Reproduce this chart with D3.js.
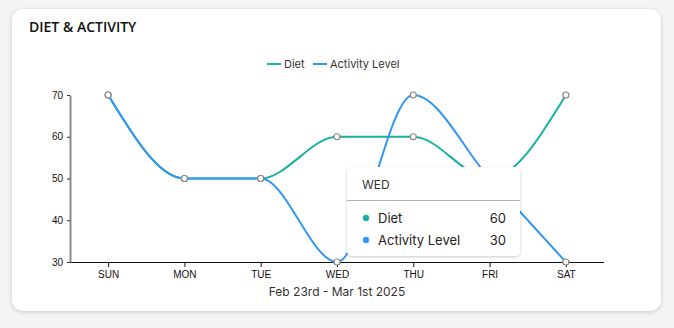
<!DOCTYPE html>
<html>
<head>
<meta charset="utf-8">
<script src="https://cdn.jsdelivr.net/npm/d3@7"></script>
<style>
  html, body { margin: 0; padding: 0; background: #f4f4f4; }
  body { width: 674px; height: 328px; overflow: hidden; position: relative; }
  .card { position: absolute; left: 12px; top: 9px; width: 649px; height: 302px; background: #fff; border-radius: 11px;
          box-shadow: 0 1px 4px rgba(0,0,0,0.18); }
  svg { position: absolute; left: 0; top: 0; }
</style>
</head>
<body>
<div class="card"></div>
<svg id="chart" width="674" height="328"></svg>
<script>
const categories = ["SUN", "MON", "TUE", "WED", "THU", "FRI", "SAT"];
const dietValues = [70, 50, 50, 60, 60, 50, 70];
const activityValues = [70, 50, 50, 30, 70, 50, 30];
const yTicks = [30, 40, 50, 60, 70];
const seriesNames = ["Diet", "Activity Level"];
const seriesColors = ["#17b1a3", "#3196f6"];
const titleText = "DIET & ACTIVITY";
const xTitle = "Feb 23rd - Mar 1st 2025";
const tooltipIndex = 3;

const svg = d3.select("#chart");
const margin = { left: 70, right: 604, top: 95, bottom: 262 };

const x = d3.scalePoint().domain(categories).range([margin.left, margin.right]).padding(0.5);
const y = d3.scaleLinear().domain([30, 70]).range([margin.bottom, margin.top]);

const defs = svg.append("defs");
const f = defs.append("filter").attr("id", "sh").attr("x", "-20%").attr("y", "-20%").attr("width", "140%").attr("height", "150%");
f.append("feDropShadow").attr("dx", 0).attr("dy", 1).attr("stdDeviation", 1.5).attr("flood-color", "#000").attr("flood-opacity", 0.22);

// title
svg.append("text").attr("x", 29).attr("y", 32).text(titleText)
  .attr("font-family", "'Open Sans', sans-serif").attr("font-weight", 600).attr("font-size", 14).attr("fill", "#111");

// legend
const legend = svg.append("g").attr("font-family", "Inter, sans-serif").attr("font-size", 11).attr("fill", "#333");
const legendX = [267, 313];
seriesNames.forEach((n, i) => {
  legend.append("line").attr("x1", legendX[i]).attr("x2", legendX[i] + 14).attr("y1", 64).attr("y2", 64)
    .attr("stroke", seriesColors[i]).attr("stroke-width", 2);
  legend.append("text").attr("x", legendX[i] + 17).attr("y", 68).text(n);
});

// axes
const xAxis = svg.append("g").attr("transform", `translate(0,${margin.bottom})`)
  .call(d3.axisBottom(x).tickSizeOuter(0).tickSize(5).tickPadding(4));
xAxis.select(".domain").attr("d", `M${margin.left},0.5H${margin.right}`).attr("stroke", "#111");
xAxis.selectAll("text").attr("font-family", "'Liberation Sans', Arial, sans-serif").attr("font-size", 10).attr("fill", "#111");
xAxis.selectAll("line").attr("stroke", "#111");

const yAxis = svg.append("g").attr("transform", `translate(${margin.left},0)`)
  .call(d3.axisLeft(y).tickValues(yTicks).tickSize(3).tickSizeOuter(0).tickPadding(4));
yAxis.select(".domain").attr("stroke", "#8a8a8a").attr("stroke-width", 2);
yAxis.selectAll("text").attr("font-family", "'Liberation Sans', Arial, sans-serif").attr("font-size", 10).attr("fill", "#111");
yAxis.selectAll("line").attr("stroke", "#333");

// x title
svg.append("text").attr("x", 337).attr("y", 296).attr("text-anchor", "middle").text(xTitle)
  .attr("font-family", "Inter, sans-serif").attr("font-size", 12).attr("fill", "#333");

// lines
const line = d3.line().x((d, i) => x(categories[i])).y(d => y(d)).curve(d3.curveMonotoneX);
[dietValues, activityValues].forEach((vals, i) => {
  svg.append("path").datum(vals).attr("d", line).attr("fill", "none")
    .attr("stroke", seriesColors[i]).attr("stroke-width", 2);
});
[dietValues, activityValues].forEach(vals => {
  svg.append("g").selectAll("circle").data(vals).join("circle")
    .attr("cx", (d, i) => x(categories[i])).attr("cy", d => y(d)).attr("r", 3)
    .attr("fill", "#fff").attr("stroke", "#888").attr("stroke-width", 1.2);
});

// tooltip
const tt = svg.append("g").attr("font-family", "Inter, sans-serif");
tt.append("rect").attr("x", 347).attr("y", 167).attr("width", 173).attr("height", 89).attr("rx", 5)
  .attr("fill", "#fff").attr("filter", "url(#sh)");
tt.append("text").attr("x", 362).attr("y", 189).text(categories[tooltipIndex]).attr("font-size", 12).attr("fill", "#333");
tt.append("line").attr("x1", 347).attr("x2", 520).attr("y1", 200.5).attr("y2", 200.5).attr("stroke", "#b5b5b5");
const rowVals = [dietValues[tooltipIndex], activityValues[tooltipIndex]];
seriesNames.forEach((n, i) => {
  const cy = 218 + i * 22;
  tt.append("circle").attr("cx", 366).attr("cy", cy).attr("r", 3.8).attr("fill", seriesColors[i])
    .attr("stroke", "#fff").attr("stroke-width", 1);
  tt.append("text").attr("x", 378).attr("y", cy + 5).text(n).attr("font-size", 13).attr("fill", "#222");
  tt.append("text").attr("x", 506).attr("y", cy + 5).attr("text-anchor", "end").text(rowVals[i])
    .attr("font-size", 13).attr("fill", "#222");
});
</script>
</body>
</html>
